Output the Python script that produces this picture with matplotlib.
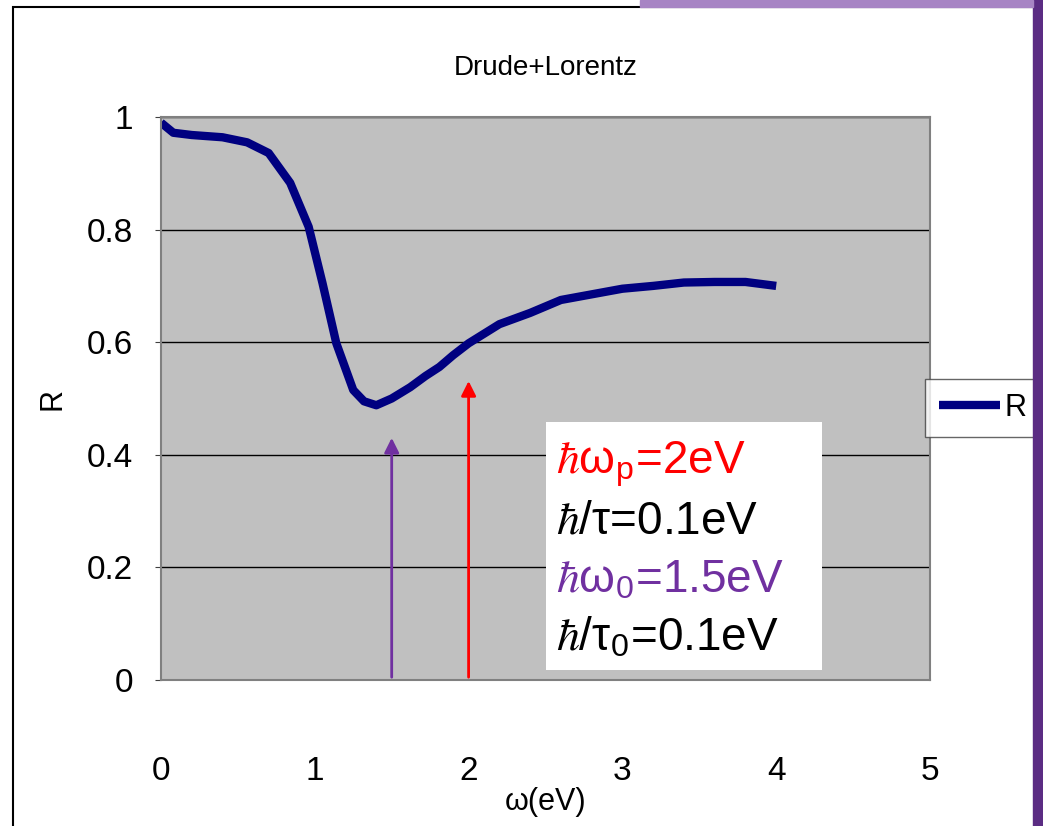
import matplotlib.pyplot as plt
import matplotlib.patches as mpatches
import numpy as np

plt.rcParams['mathtext.fontset'] = 'stix'
narrow = ['Liberation Sans Narrow', 'Liberation Sans', 'DejaVu Sans']

# reflectivity curve
omega = [0.0, 0.08, 0.2, 0.4, 0.56, 0.7, 0.84, 0.96, 1.05, 1.14, 1.25, 1.32, 1.4,
         1.5, 1.62, 1.72, 1.81, 1.9, 2.0, 2.2, 2.4, 2.6, 2.8, 3.0, 3.2, 3.4, 3.6,
         3.8, 4.0]
R = [0.99, 0.972, 0.968, 0.964, 0.955, 0.936, 0.883, 0.805, 0.705, 0.598, 0.515,
     0.495, 0.488, 0.5, 0.52, 0.54, 0.556, 0.577, 0.598, 0.632, 0.652, 0.675,
     0.685, 0.695, 0.70, 0.706, 0.707, 0.707, 0.70]

# arrows: (x, tip height, colour)
arrow_x = [1.5, 2.0]
arrow_top = [0.435, 0.536]
arrow_col = ['#7030A0', '#FF0000']

params = [r'$\hbar$ω$_\mathregular{p}$=2eV', r'$\hbar$/τ=0.1eV',
          r'$\hbar$ω$_\mathregular{0}$=1.5eV', r'$\hbar$/τ$_\mathregular{0}$=0.1eV']
param_col = ['#FF0000', 'black', '#7030A0', 'black']

fig = plt.figure(figsize=(10.43, 8.26), dpi=100)
fig.patch.set_facecolor('white')

# slide frame
fig.add_artist(mpatches.Rectangle((13/1043, -0.01), 1.2, 1 - 7/826 + 0.01,
               transform=fig.transFigure, fill=False, edgecolor='black', lw=1.5))
fig.add_artist(mpatches.Rectangle((1033/1043, 0), 10/1043, 1,
               transform=fig.transFigure, color='#5B2C83'))
fig.add_artist(mpatches.Rectangle((640/1043, 1 - 7/826), 393/1043, 7/826,
               transform=fig.transFigure, color='#A784C4'))

ax = fig.add_axes([161/1043, 1 - 680/826, 769/1043, 563/826])
ax.set_facecolor('#C0C0C0')
ax.set_xlim(0, 5)
ax.set_ylim(0, 1)
ax.set_yticks([0, 0.2, 0.4, 0.6, 0.8, 1])
ax.set_yticklabels(['0', '0.2', '0.4', '0.6', '0.8', '1'])
ax.set_xticks([0, 1, 2, 3, 4, 5])
ax.grid(axis='y', color='black', lw=1)
ax.set_axisbelow(True)
for s in ax.spines.values():
    s.set_color('#808080')
    s.set_linewidth(1.5)
ax.tick_params(axis='x', length=0, pad=55, labelsize=24)
ax.tick_params(axis='y', length=4, pad=16, labelsize=24, color='#404040')
for lab in ax.get_xticklabels() + ax.get_yticklabels():
    lab.set_family(narrow)

ax.plot(omega, R, color='#000080', lw=6, label='R', solid_capstyle='butt')

for x, top, c in zip(arrow_x, arrow_top, arrow_col):
    ax.annotate('', xy=(x, top), xytext=(x, 0),
                arrowprops=dict(arrowstyle='-|>', color=c, lw=2, mutation_scale=22))

# parameter box
ax.add_patch(mpatches.Rectangle((2.5, 0.018), 1.8, 0.44, facecolor='white',
                                edgecolor='none', zorder=4))
for i, (t, c) in enumerate(zip(params, param_col)):
    ax.text(2.57, 0.384 - i * 0.103, t, color=c, fontsize=33, family='Liberation Sans',
            va='center', ha='left', zorder=5)

ax.set_title('Drude+Lorentz', fontsize=20, family=narrow, pad=30)
ax.set_xlabel('ω(eV)', fontsize=22, family=narrow, labelpad=0)
ax.set_ylabel('R', fontsize=22, family=narrow, labelpad=14)

leg = ax.legend(loc='center left', bbox_to_anchor=(0.9935, 0.483), borderaxespad=0,
                frameon=True, fancybox=False, edgecolor='#404040', handlelength=2.0,
                borderpad=0.45, handletextpad=0.15, prop={'family': narrow, 'size': 22})
leg.get_frame().set_linewidth(1)

fig.savefig('out.png', dpi=100)
